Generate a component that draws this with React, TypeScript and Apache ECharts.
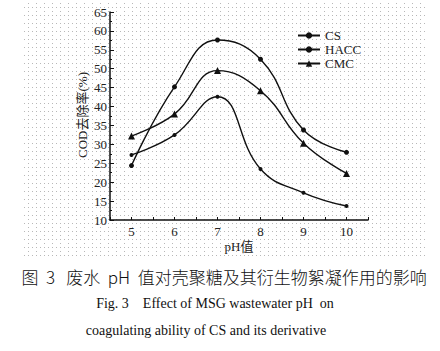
import React, { useEffect, useRef } from "react";
import * as echarts from "echarts";

const phValues = [5, 6, 7, 8, 9, 10];
const csValues = [27.2, 32.5, 42.6, 23.5, 17.2, 13.7];
const haccValues = [24.4, 45.2, 57.6, 52.5, 33.8, 27.9];
const cmcValues = [32.2, 38.0, 49.5, 44.2, 30.3, 22.3];
const seriesNames = ["CS", "HACC", "CMC"];

const SERIF = "'Liberation Serif', 'DejaVu Serif', serif";
const CJK = "'Noto Sans CJK SC', sans-serif";

function buildDots(): string {
  let d = "";
  for (let k = 0; k <= 63; k++) {
    const y = 3 + 4 * k;
    if (k % 2 === 0) {
      for (let x = 28; x <= 420; x += 8) d += `M${x} ${y}h1v1h-1z`;
    } else {
      for (let x = 24; x <= 425; x += 4) d += `M${x} ${y}h1v1h-1z`;
    }
  }
  return d;
}

let registered = false;

export default function App() {
  const ref = useRef<HTMLDivElement>(null);
  useEffect(() => {
    if (!registered) {
      echarts.graphic.registerShape("dots", echarts.graphic.extendPath(buildDots(), {}) as any);
      registered = true;
    }
    const chart = echarts.init(ref.current!, null, { renderer: "svg" });
    const mk = (vals: number[]) => phValues.map((x, i) => [x, vals[i]]);
    const lineStyle = { color: "#111", width: 1.4 };
    chart.setOption({
      animation: false,
      backgroundColor: "#fff",
      grid: { left: 110, right: 72, top: 12, bottom: 131 },
      legend: {
        orient: "vertical",
        left: 292,
        top: 24,
        itemGap: 1,
        itemWidth: 22,
        itemHeight: 8,
        data: seriesNames,
        textStyle: { fontFamily: SERIF, fontSize: 13, lineHeight: 13, color: "#222" },
      },
      xAxis: {
        type: "value",
        min: 4.5,
        max: 10.5,
        interval: 0.5,
        splitLine: { show: false },
        axisLine: { lineStyle: { color: "#111", width: 1.5 } },
        axisTick: { inside: true, length: 3, lineStyle: { color: "#111" } },
        axisLabel: {
          margin: 5,
          fontFamily: SERIF,
          fontSize: 13,
          color: "#222",
          formatter: (v: number) => (Number.isInteger(v) ? String(v) : ""),
        },
      },
      yAxis: {
        type: "value",
        min: 10,
        max: 65,
        interval: 5,
        splitLine: { show: false },
        axisLine: { show: true, lineStyle: { color: "#111", width: 1.5 } },
        axisTick: { show: true, inside: true, length: 4, lineStyle: { color: "#111" } },
        minorTick: { show: true, splitNumber: 2, length: 2, lineStyle: { color: "#111" } },
        axisLabel: { margin: 3, fontFamily: SERIF, fontSize: 13, color: "#222" },
      },
      graphic: [
        { type: "dots", x: 0, y: 0, z: -10, silent: true, style: { fill: "#b8b8b8" } },
        {
          type: "text",
          x: 82,
          y: 115,
          rotation: Math.PI / 2,
          style: {
            text: "COD去除率(%)",
            font: `13px ${SERIF}, ${CJK}`,
            fill: "#222",
            align: "center",
            verticalAlign: "middle",
          },
        },
        {
          type: "text",
          x: 239,
          y: 246,
          style: { text: "pH值", font: `13px ${SERIF}, ${CJK}`, fill: "#222", align: "center", verticalAlign: "middle" },
        },
        {
          type: "text",
          x: 224,
          y: 276,
          style: {
            text: "图  3   废水  pH  值对壳聚糖及其衍生物絮凝作用的影响",
            font: `300 17px ${CJK}`,
            fill: "#111",
            align: "center",
            verticalAlign: "middle",
          },
        },
        {
          type: "text",
          x: 215,
          y: 303,
          style: {
            text: "Fig. 3    Effect of MSG wastewater pH  on",
            font: `14px ${SERIF}`,
            fill: "#111",
            align: "center",
            verticalAlign: "middle",
          },
        },
        {
          type: "text",
          x: 206,
          y: 330,
          style: {
            text: "coagulating ability of CS and its derivative",
            font: `14px ${SERIF}`,
            fill: "#111",
            align: "center",
            verticalAlign: "middle",
          },
        },
      ],
      series: [
        {
          name: "CS",
          type: "line",
          smooth: 0.45,
          data: mk(csValues),
          symbol: "circle",
          symbolSize: 4,
          lineStyle,
          itemStyle: { color: "#111" },
        },
        {
          name: "HACC",
          type: "line",
          smooth: 0.45,
          data: mk(haccValues),
          symbol: "circle",
          symbolSize: 5,
          lineStyle,
          itemStyle: { color: "#111" },
        },
        {
          name: "CMC",
          type: "line",
          smooth: 0.45,
          data: mk(cmcValues),
          symbol: "triangle",
          symbolSize: 7,
          lineStyle,
          itemStyle: { color: "#111" },
        },
      ],
    });
    return () => chart.dispose();
  }, []);
  return (
    <div style={{ position: "absolute", left: 0, top: 0, width: 440, height: 351, background: "#fff" }}>
      <div ref={ref} style={{ width: 440, height: 351 }} />
    </div>
  );
}
